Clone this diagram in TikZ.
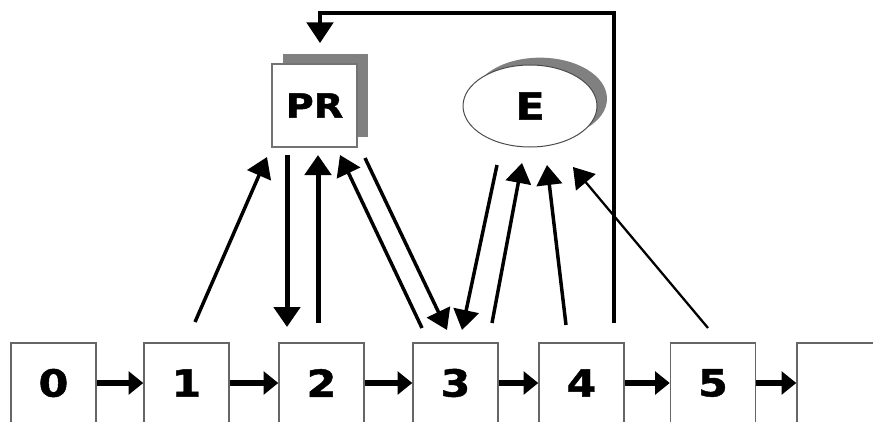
\documentclass[tikz,border=0pt]{standalone}
\usepackage{fontspec}
\newfontfamily\heavy[FakeStretch=1.15,FakeBold=1.2]{DejaVu Sans}
\usetikzlibrary{arrows.meta,shapes.geometric,shadows}
\begin{document}
\begin{tikzpicture}[x=0.75pt,y=-0.75pt,
  cell/.style={draw=black!60, line width=1.1pt, fill=white, minimum width=63.75pt,
    minimum height=60pt, inner sep=0pt, font=\heavy\bfseries\fontsize{28}{30}\selectfont},
  link/.style={line width=5pt, -{Triangle[length=11pt,width=17pt]}},
  ptr/.style={line width=2.6pt, -{Triangle[length=15pt,width=19pt]}},
  thickptr/.style={line width=3.75pt, -{Triangle[length=15pt,width=19.5pt]}},
  thinptr/.style={line width=1.7pt, -{Triangle[length=15pt,width=19pt]}},
  fb/.style={line width=2.5pt, -{Triangle[length=15.5pt,width=20pt]}},
  prbox/.style={draw=black!55, line width=1.1pt, fill=white, minimum width=63.75pt,
    minimum height=62.25pt, inner sep=0pt,
    drop shadow={shadow xshift=8.25pt, shadow yshift=7.5pt, fill=black!50, opacity=1},
    font=\heavy\bfseries\fontsize{25}{27}\selectfont},
  eshape/.style={ellipse, draw=black!70, line width=0.75pt, fill=white, minimum width=100.5pt,
    minimum height=61.5pt, inner sep=0pt,
    drop shadow={shadow xshift=7.5pt, shadow yshift=5.5pt, fill=black!50, opacity=1},
    font=\heavy\bfseries\fontsize{28}{30}\selectfont}
]
\useasboundingbox (0,0) rectangle (873,421);
\clip (0,0) rectangle (873,421);

% list cells
\node[cell] (b0) at (53.5,383) {0};
\node[cell] (b1) at (186.5,383) {1};
\node[cell] (b2) at (321.5,383) {2};
\node[cell] (b3) at (455.5,383) {3};
\node[cell] (b4) at (581.5,383) {4};
\node[cell] (b5) at (713,383) {5};
\node[cell] (b6) at (839.5,383) {};

\draw[link] (b0) -- (b1);
\draw[link] (b1) -- (b2);
\draw[link] (b2) -- (b3);
\draw[link] (b3) -- (b4);
\draw[link] (b4) -- (b5);
\draw[link] (b5) -- (b6);

% PR and E
\node[prbox] (PR) at (314.5,105.5) {PR};
\node[eshape] (E) at (530,106) {E};

% arrow end points
\coordinate (a1s) at (195,322); \coordinate (a1e) at (267,157);
\coordinate (a2s) at (287,155); \coordinate (a2e) at (287,327);
\coordinate (a3s) at (318,323); \coordinate (a3e) at (318,155);
\coordinate (a4s) at (422,328); \coordinate (a4e) at (340,155);
\coordinate (a5s) at (365,158); \coordinate (a5e) at (447,330);
\coordinate (a6s) at (497,165); \coordinate (a6e) at (462,330);
\coordinate (a7s) at (492,323); \coordinate (a7e) at (522,163);
\coordinate (a8s) at (566,325); \coordinate (a8e) at (547,165);
\coordinate (a9s) at (708,328); \coordinate (a9e) at (573,167);

\draw[ptr] (a1s) -- (a1e);
\draw[thickptr] (a2s) -- (a2e);
\draw[thickptr] (a3s) -- (a3e);
\draw[ptr] (a4s) -- (a4e);
\draw[ptr] (a5s) -- (a5e);
\draw[ptr] (a6s) -- (a6e);
\draw[ptr] (a7s) -- (a7e);
\draw[ptr] (a8s) -- (a8e);
\draw[thinptr] (a9s) -- (a9e);

% feedback line
\coordinate (fbs) at (614,323);
\coordinate (fbc) at (614,13);
\coordinate (fbe) at (320,43);
\draw[fb] (fbs) -- (fbc) -| (fbe);
\end{tikzpicture}
\end{document}
